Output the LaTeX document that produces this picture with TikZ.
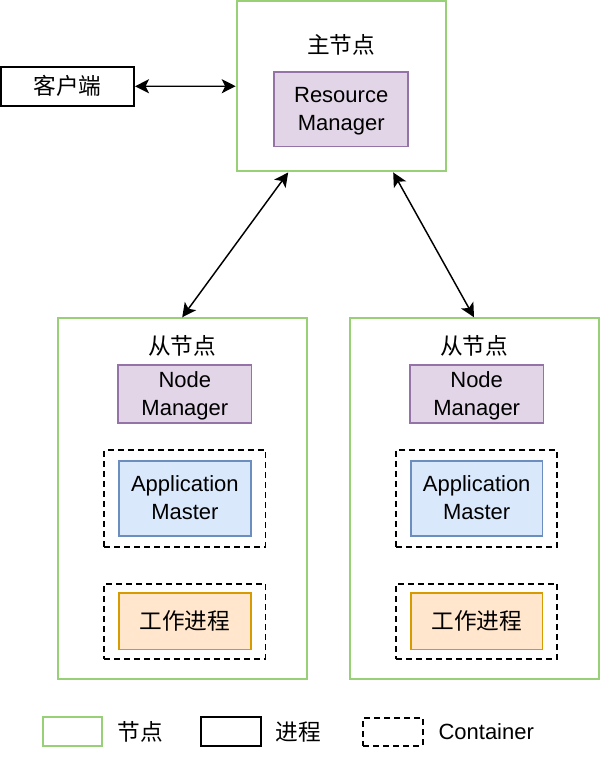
\documentclass[tikz,border=0pt]{standalone}
\usepackage{fontspec}
\setmainfont{Liberation Sans}
\newfontfamily\cjk{Noto Sans CJK SC}
\usetikzlibrary{positioning}
\usetikzlibrary{arrows.meta}

\definecolor{nodegreen}{HTML}{97D077}
\definecolor{rmfill}{HTML}{E1D5E7}
\definecolor{rmline}{HTML}{9673A6}
\definecolor{amfill}{HTML}{DAE8FC}
\definecolor{amline}{HTML}{6C8EBF}
\definecolor{wkfill}{HTML}{FFE6CC}
\definecolor{wkline}{HTML}{D79B00}

\tikzset{
   zhtext/.style={font=\cjk\fontsize{17}{20}\selectfont, inner sep=0pt},
   entext/.style={font=\fontsize{16.5}{21}\selectfont, align=center, inner sep=0pt},
   twoline/.style={entext, text height=32pt, text depth=0pt},
   nodebox/.style={draw=nodegreen, line width=1.5pt},
   procbox/.style={draw=black, line width=1.5pt},
   contbox/.style={draw=black, line width=1.4pt, dash pattern=on 4.5pt off 3pt},
   rmbox/.style={draw=rmline, fill=rmfill, line width=1.2pt},
   ambox/.style={draw=amline, fill=amfill, line width=1.2pt},
   wkbox/.style={draw=wkline, fill=wkfill, line width=1.2pt},
   link/.style={line width=1.1pt,
      {Stealth[length=10.5pt,width=10.5pt,inset=2.6pt]}-{Stealth[length=10.5pt,width=10.5pt,inset=2.6pt]}}
}

\begin{document}
\begin{tikzpicture}[x=0.75pt, y=-0.75pt]
   \useasboundingbox (0,0) rectangle (601,762);

   % master node
   \node[nodebox, minimum width=156.75pt, minimum height=127.9pt] (master) at (341.2,86.2) {};
   \node[zhtext] (mtitle) at (341.2,44.5) {主节点};
   \node[rmbox, twoline, minimum width=100.5pt, minimum height=55.8pt] (rm) at (341.2,109.5)
      {Resource\\Manager};

   % client
   \node[procbox, zhtext, minimum width=99.75pt, minimum height=29pt] (client) at (67.5,86.3) {客户端};

   % slave node, left
   \node[nodebox, minimum width=186.75pt, minimum height=270.3pt] (slaveL) at (182.2,498.5) {};
   \node[zhtext] (stitleL) at (182.2,346) {从节点};
   \node[rmbox, twoline, minimum width=100pt, minimum height=43.5pt,
      below=35.2pt of slaveL.north, xshift=2pt] (nmL) {Node\\Manager};
   \node[contbox, minimum width=121pt, minimum height=72.5pt, below=19.1pt of nmL] (contL1) {};
   \node[ambox, twoline, minimum width=98.8pt, minimum height=56.25pt] (amL) at (contL1)
      {Application\\Master};
   \node[contbox, minimum width=121pt, minimum height=56.25pt, below=26.35pt of contL1] (contL2) {};
   \node[wkbox, zhtext, minimum width=98.8pt, minimum height=42.2pt] (wkL) at (contL2) {工作进程};

   % slave node, right
   \node[nodebox, minimum width=186.75pt, minimum height=270.3pt] (slaveR) at (474,498.5) {};
   \node[zhtext] (stitleR) at (474,346) {从节点};
   \node[rmbox, twoline, minimum width=100pt, minimum height=43.5pt,
      below=35.2pt of slaveR.north, xshift=2pt] (nmR) {Node\\Manager};
   \node[contbox, minimum width=121pt, minimum height=72.5pt, below=19.1pt of nmR] (contR1) {};
   \node[ambox, twoline, minimum width=98.8pt, minimum height=56.25pt] (amR) at (contR1)
      {Application\\Master};
   \node[contbox, minimum width=121pt, minimum height=56.25pt, below=26.35pt of contR1] (contR2) {};
   \node[wkbox, zhtext, minimum width=98.8pt, minimum height=42.2pt] (wkR) at (contR2) {工作进程};

   % links
   \draw[link] (client) -- (master);
   \draw[link] ([xshift=-39.75pt]master.south) -- (slaveL.north);
   \draw[link] ([xshift=39pt]master.south) -- (slaveR.north);

   % legend
   \node[nodebox, minimum width=44.7pt, minimum height=21.75pt] (legNode) at (72.5,731.8) {};
   \node[zhtext, right=10.5pt of legNode] (legNodeText) {节点};
   \node[procbox, minimum width=44.7pt, minimum height=21.3pt] (legProc) at (230.8,731.6) {};
   \node[zhtext, right=10.5pt of legProc] (legProcText) {进程};
   \node[contbox, minimum width=44.5pt, minimum height=21pt] (legCont) at (393,731.7) {};
   \node[entext, right=11pt of legCont] (legContText) {Container};
\end{tikzpicture}
\end{document}
